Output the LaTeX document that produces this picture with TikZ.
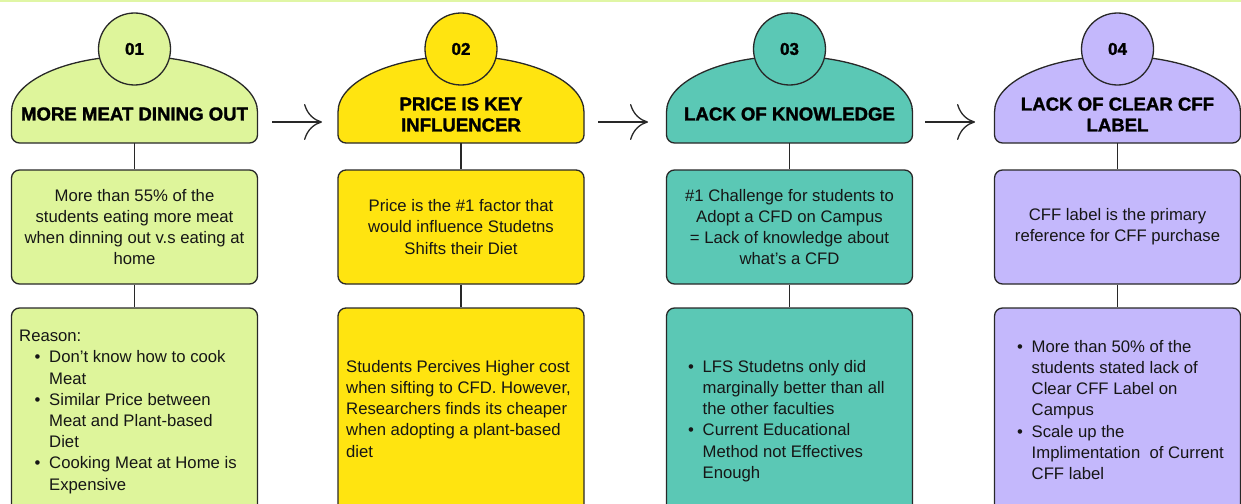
\documentclass[tikz,border=0pt]{standalone}
\usepackage{fontspec}
\setmainfont{Liberation Sans}
\newfontfamily\heavyfont{Liberation Sans Bold}[FakeBold=1.6]
\usetikzlibrary{arrows.meta}
\definecolor{cA}{RGB}{222,245,155}
\definecolor{cB}{RGB}{255,228,16}
\definecolor{cC}{RGB}{91,200,181}
\definecolor{cD}{RGB}{196,184,252}
\definecolor{stripc}{RGB}{224,246,165}
\definecolor{linec}{RGB}{40,40,40}
\definecolor{txt}{RGB}{22,22,22}
\newcommand\bitem{\makebox[14.5pt][l]{\textbullet}}
\newcommand\bcont{\hspace*{14.5pt}}
\begin{document}
\begin{tikzpicture}[x=1pt,y=-1pt,
  outl/.style={draw=linec,line width=1.3pt},
  numc/.style={outl,circle,minimum size=72pt,inner sep=0pt,font=\fontsize{17}{20}\selectfont\heavyfont,text=black},
  ttl/.style={align=center,inner sep=0pt,font=\fontsize{18.6}{21}\selectfont\heavyfont,text=black},
  boxst/.style={outl,rounded corners=8pt,minimum width=246pt,inner sep=0pt,align=center,
     font=\fontsize{16.7}{21.2}\selectfont,text=txt},
  body/.style={anchor=north west,inner sep=0pt,align=left,font=\fontsize{16.7}{21.2}\selectfont,text=txt},
  conn/.style={draw=linec,line width=1.3pt},
  arr/.style={draw=linec,line width=1.3pt,-{Computer Modern Rightarrow[length=18pt,width=36pt,line width=1.3pt]}}
]
\useasboundingbox (0,0) rectangle (1241,503);
\clip (0,0) rectangle (1241,503);
\fill[stripc] (0,0) rectangle (1241,2.5);

% domes and number circles
\foreach \cx/\col/\n in {134.5/cA/1,461/cB/2,789.5/cC/3,1117.5/cD/4}{
  \draw[outl,fill=\col] (\cx-123,112) arc[start angle=180,end angle=0,x radius=123pt,y radius=56pt]
     -- (\cx+123,135) arc[start angle=0,end angle=-90,radius=8pt]
     -- (\cx-115,143) arc[start angle=270,end angle=180,radius=8pt] -- cycle;
  \coordinate (dome\n) at (\cx,143);
  \node[numc,fill=\col] (num\n) at (\cx,49) {0\n};
}

% titles
\node[ttl] (title1) at (134.5,114) {MORE MEAT DINING OUT};
\node[ttl] (title2) at (461,114.5) {PRICE IS KEY\\INFLUENCER};
\node[ttl] (title3) at (789.5,114) {LACK OF KNOWLEDGE};
\node[ttl] (title4) at (1117.5,114.5) {LACK OF CLEAR CFF\\LABEL};

% first boxes
\node[boxst,fill=cA,minimum height=114pt] (boxa1) at (134.5,227)
  {More than 55\% of the\\students eating more meat\\when dinning out v.s eating at\\home};
\node[boxst,fill=cB,minimum height=114pt] (boxa2) at (461,227)
  {Price is the \#1 factor that\\would influence Studetns\\Shifts their Diet};
\node[boxst,fill=cC,minimum height=114pt] (boxa3) at (789.5,227)
  {\#1 Challenge for students to\\Adopt a CFD on Campus\\= Lack of knowledge about\\what's a CFD};
\node[boxst,fill=cD,minimum height=114pt] (boxa4) at (1117.5,227)
  {CFF label is the primary\\reference for CFF purchase};

% second boxes
\node[boxst,fill=cA,minimum height=232pt] (boxb1) at (134.5,424) {};
\node[boxst,fill=cB,minimum height=232pt] (boxb2) at (461,424) {};
\node[boxst,fill=cC,minimum height=232pt] (boxb3) at (789.5,424) {};
\node[boxst,fill=cD,minimum height=232pt] (boxb4) at (1117.5,424) {};

% connectors
\foreach \n in {1,2,3,4}{
  \draw[conn] (dome\n) -- (boxa\n.north);
  \draw[conn] (boxa\n.south) -- (boxb\n.north);
}

% arrows
\coordinate (a1s) at (272,122); \coordinate (a1e) at (322,122);
\coordinate (a2s) at (598,122); \coordinate (a2e) at (648,122);
\coordinate (a3s) at (925,122); \coordinate (a3e) at (975,122);
\draw[arr] (a1s) -- (a1e);
\draw[arr] (a2s) -- (a2e);
\draw[arr] (a3s) -- (a3e);

% texts of second boxes
\node[body] (txt1) at (19,330) {Reason:\\
\hspace*{15.5pt}\bitem Don’t know how to cook\\
\hspace*{15.5pt}\bcont Meat\\
\hspace*{15.5pt}\bitem Similar Price between\\
\hspace*{15.5pt}\bcont Meat and Plant-based\\
\hspace*{15.5pt}\bcont Diet\\
\hspace*{15.5pt}\bitem Cooking Meat at Home is\\
\hspace*{15.5pt}\bcont Expensive};
\node[body] (txt2) at (346,360) {Students Percives Higher cost\\when sifting to CFD. However,\\Researchers finds its cheaper\\when adopting a plant-based\\diet};
\node[body] (txt3) at (688,360) {\bitem LFS Studetns only did\\
\bcont marginally better than all\\
\bcont the other faculties\\
\bitem Current Educational\\
\bcont Method not Effectives\\
\bcont Enough};
\node[body] (txt4) at (1017,340) {\bitem More than 50\% of the\\
\bcont students stated lack of\\
\bcont Clear CFF Label on\\
\bcont Campus\\
\bitem Scale up the\\
\bcont Implimentation\ \ of Current\\
\bcont CFF label};
\end{tikzpicture}
\end{document}
